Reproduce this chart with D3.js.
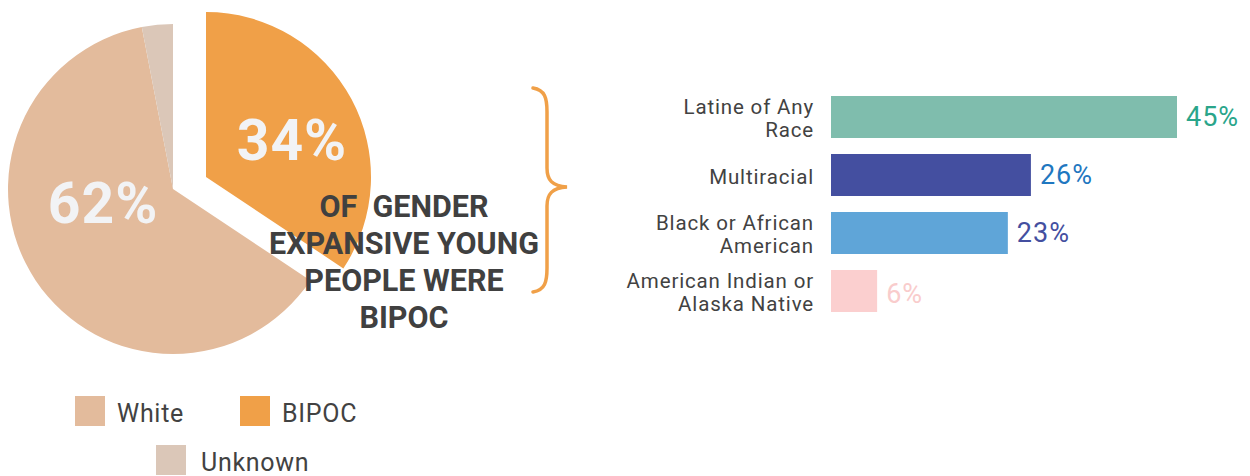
<!DOCTYPE html>
<html>
<head>
<meta charset="utf-8">
<script src="https://cdn.jsdelivr.net/npm/d3@7"></script>
<style>
  html, body { margin: 0; padding: 0; background: #ffffff; }
  svg { display: block; }
</style>
</head>
<body>
<div id="chart"></div>
<script>
// ---- data ----
const pieCategories = ["BIPOC", "White", "Unknown"];
const pieValues = [34, 62, 3];
const pieLabels = ["34%", "62%", ""];
const legendCategories = ["White", "BIPOC", "Unknown"];
const calloutLines = ["OF  GENDER", "EXPANSIVE YOUNG", "PEOPLE WERE", "BIPOC"];
const barCategories = [
  ["Latine of Any", "Race"],
  ["Multiracial"],
  ["Black or African", "American"],
  ["American Indian or", "Alaska Native"]
];
const barValues = [45, 26, 23, 6];
const barLabels = ["45%", "26%", "23%", "6%"];

// ---- styles ----
const pieColors = { "White": "#e3bb9c", "BIPOC": "#f0a048", "Unknown": "#dbc7b8" };
const barColors = ["#7fbdad", "#444fa0", "#5fa5d8", "#fbcfcf"];
const valueColors = ["#2aa58a", "#1f77c0", "#444fa0", "#f9cccc"];
const textColor = "#424242";
const font = "Roboto, 'Open Sans', sans-serif";

const W = 1250, H = 476;
const svg = d3.select("#chart").append("svg")
  .attr("width", W).attr("height", H);

// ---- pie ----
const R = 165;
const center = [173, 189];
const explode = { "BIPOC": [33, -12] };
const pie = d3.pie().sort(null).value(d => d.v);
const arcs = pie(pieCategories.map((c, i) => ({ c, v: pieValues[i], l: pieLabels[i] })));
const arc = d3.arc().innerRadius(0).outerRadius(R);

const pg = svg.append("g").attr("transform", `translate(${center[0]},${center[1]})`);
const slices = pg.selectAll("g.slice").data(arcs).join("g")
  .attr("class", "slice")
  .attr("transform", d => {
    const o = explode[d.data.c] || [0, 0];
    return `translate(${o[0]},${o[1]})`;
  });
slices.append("path")
  .attr("d", arc)
  .attr("fill", d => pieColors[d.data.c]);

const labelPos = { "BIPOC": [86, -17], "White": [-70, 34] };
slices.filter(d => d.data.l).append("text")
  .attr("x", d => labelPos[d.data.c][0])
  .attr("y", d => labelPos[d.data.c][1])
  .attr("text-anchor", "middle")
  .attr("font-family", font)
  .attr("font-weight", 700)
  .attr("font-size", 57)
  .attr("letter-spacing", 1)
  .attr("fill", "#f2f3f5")
  .text(d => d.data.l);

// ---- callout text ----
svg.append("g").selectAll("text").data(calloutLines).join("text")
  .attr("x", 404)
  .attr("y", (d, i) => 217 + i * 37)
  .attr("text-anchor", "middle")
  .attr("font-family", font)
  .attr("font-weight", 700)
  .attr("font-size", 30.5)
  .attr("fill", "#404040")
  .attr("xml:space", "preserve")
  .style("white-space", "pre")
  .text(d => d);

// ---- brace ----
svg.append("path")
  .attr("d", "M533,88 C545,90 547,98 547,112 L547,168 C547,180 552,186 567,187 C552,188 547,194 547,206 L547,268 C547,282 545,290 533,292")
  .attr("fill", "none")
  .attr("stroke", "#f0a048")
  .attr("stroke-width", 3.5)
  .attr("stroke-linecap", "round");

// ---- bars ----
const x = d3.scaleLinear().domain([0, 45]).range([831, 1177]);
const y = d3.scaleBand().domain(d3.range(barValues.length)).range([96, 312]).paddingInner(0.276).paddingOuter(0);

const bg = svg.append("g");
bg.selectAll("rect").data(barValues).join("rect")
  .attr("x", x(0))
  .attr("y", (d, i) => y(i))
  .attr("width", d => x(d) - x(0))
  .attr("height", y.bandwidth())
  .attr("fill", (d, i) => barColors[i]);

bg.selectAll("text.val").data(barValues).join("text")
  .attr("class", "val")
  .attr("x", d => x(d) + 9)
  .attr("y", (d, i) => y(i) + y.bandwidth() / 2 + (i === 3 ? 12 : 9))
  .attr("font-family", font)
  .attr("font-size", 27)
  .attr("letter-spacing", 1)
  .attr("fill", (d, i) => valueColors[i])
  .text((d, i) => barLabels[i]);

// each category line is its own text element, stacked below the previous one
const catLines = [];
barCategories.forEach((lines, i) => {
  const cy = y(i) + y.bandwidth() / 2;
  const start = lines.length === 1 ? cy + 9 : cy - 3;
  lines.forEach((ln, j) => catLines.push({ t: ln, y: start + j * 23 }));
});
bg.selectAll("text.cat").data(catLines).join("text")
  .attr("class", "cat")
  .attr("x", 814)
  .attr("y", d => d.y)
  .attr("text-anchor", "end")
  .attr("font-family", font)
  .attr("font-size", 20.5)
  .attr("letter-spacing", 0.85)
  .attr("fill", textColor)
  .text(d => d.t);

// ---- legend ----
const legendPos = [[75, 396], [240, 396], [156, 445]];
const lg = svg.append("g").selectAll("g").data(legendCategories).join("g")
  .attr("transform", (d, i) => `translate(${legendPos[i][0]},${legendPos[i][1]})`);
lg.append("rect").attr("width", 30).attr("height", 30).attr("fill", d => pieColors[d]);
lg.append("text")
  .attr("x", d => d === "Unknown" ? 45 : 42).attr("y", 26)
  .attr("font-family", font)
  .attr("font-size", 25)
  .attr("letter-spacing", 0.7)
  .attr("fill", textColor)
  .text(d => d);
</script>
</body>
</html>
